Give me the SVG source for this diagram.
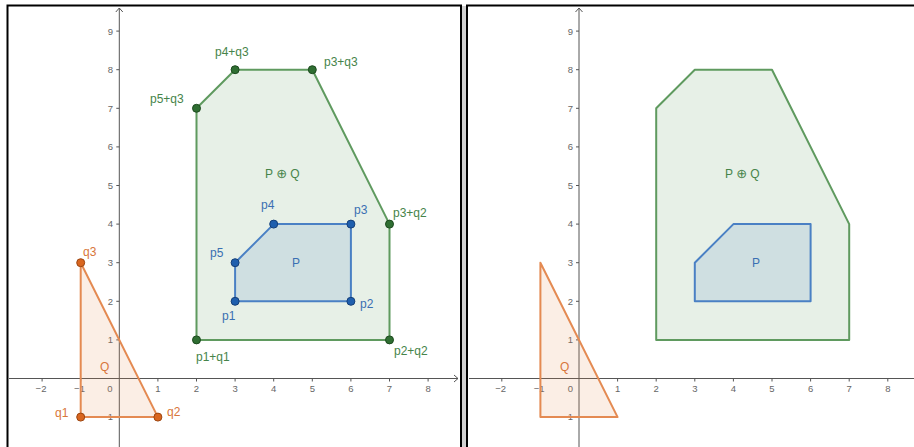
<svg xmlns="http://www.w3.org/2000/svg" width="914" height="447" viewBox="0 0 914 447">
<style>
.frame{fill:none;stroke:#000;stroke-width:2}
.axis{stroke:#555;stroke-width:1;fill:none}
.tick{stroke:#555;stroke-width:1}
.tl{font-family:"Liberation Sans",Arial,sans-serif;font-size:9.5px;fill:#666}
.tlx{text-anchor:middle}
.tly{text-anchor:end}
.sum{fill:#5f9a5f;fill-opacity:0.15;stroke:#5f9a5f;stroke-width:2;stroke-linejoin:round}
.pp{fill:#4a80c4;fill-opacity:0.15;stroke:#4a80c4;stroke-width:2;stroke-linejoin:round}
.qq{fill:#e48a52;fill-opacity:0.15;stroke:#e48a52;stroke-width:2;stroke-linejoin:round}
.gpt{fill:#2f6e32;stroke:#1c4a1e;stroke-width:1}
.bpt{fill:#1f5fae;stroke:#153f78;stroke-width:1}
.opt{fill:#d9661f;stroke:#9c4510;stroke-width:1}
.lb{font-family:"Liberation Sans",Arial,"DejaVu Sans",sans-serif;font-size:12px}
.op{font-family:"DejaVu Sans",sans-serif;font-size:13px}
.g{fill:#46844a}
.b{fill:#3a6fb2}
.o{fill:#d8763a}
</style>
<rect x="0" y="0" width="914" height="447" fill="#fff"/>
<!-- frames -->
<rect x="462" y="6" width="4" height="441" fill="#d0d0d0"/>
<path class="frame" d="M7.5,447 V5.5 H461 V447"/>
<path class="frame" d="M467,447 V5.5 H914"/>

<g id="left-panel">
  <g id="left-axes">
    <line class="axis" x1="9" y1="378.5" x2="458" y2="378.5"/>
    <path class="axis" d="M454,375 L458,378.5 L454,382"/>
    <line class="axis" x1="119.3" y1="8" x2="119.3" y2="447"/>
    <path class="axis" d="M115.8,12 L119.3,8 L122.8,12"/>
    <g class="tick">
      <line x1="42.1" y1="378.5" x2="42.1" y2="381.5"/><line x1="80.7" y1="378.5" x2="80.7" y2="381.5"/>
      <line x1="157.9" y1="378.5" x2="157.9" y2="381.5"/><line x1="196.5" y1="378.5" x2="196.5" y2="381.5"/>
      <line x1="235.1" y1="378.5" x2="235.1" y2="381.5"/><line x1="273.7" y1="378.5" x2="273.7" y2="381.5"/>
      <line x1="312.3" y1="378.5" x2="312.3" y2="381.5"/><line x1="350.9" y1="378.5" x2="350.9" y2="381.5"/>
      <line x1="389.5" y1="378.5" x2="389.5" y2="381.5"/><line x1="428.1" y1="378.5" x2="428.1" y2="381.5"/>
      <line x1="116.3" y1="31.1" x2="119.3" y2="31.1"/><line x1="116.3" y1="69.7" x2="119.3" y2="69.7"/>
      <line x1="116.3" y1="108.3" x2="119.3" y2="108.3"/><line x1="116.3" y1="146.9" x2="119.3" y2="146.9"/>
      <line x1="116.3" y1="185.5" x2="119.3" y2="185.5"/><line x1="116.3" y1="224.1" x2="119.3" y2="224.1"/>
      <line x1="116.3" y1="262.7" x2="119.3" y2="262.7"/><line x1="116.3" y1="301.3" x2="119.3" y2="301.3"/>
      <line x1="116.3" y1="339.9" x2="119.3" y2="339.9"/><line x1="116.3" y1="417.1" x2="119.3" y2="417.1"/>
    </g>
    <g class="tl tlx">
      <text x="41" y="392">−2</text><text x="79.5" y="392">−1</text><text x="110" y="392">0</text>
      <text x="157.9" y="392">1</text><text x="196.5" y="392">2</text><text x="235.1" y="392">3</text>
      <text x="273.7" y="392">4</text><text x="312.3" y="392">5</text><text x="350.9" y="392">6</text>
      <text x="389.5" y="392">7</text><text x="428.1" y="392">8</text>
    </g>
    <g class="tl tly">
      <text x="113" y="34.5">9</text><text x="113" y="73">8</text><text x="113" y="111.6">7</text>
      <text x="113" y="150.2">6</text><text x="113" y="188.8">5</text><text x="113" y="227.4">4</text>
      <text x="113" y="266">3</text><text x="113" y="304.6">2</text><text x="113" y="343.2">1</text>
      <text x="113" y="420.4">−1</text>
    </g>
  </g>
  <g id="L-sum">
    <polygon class="sum" points="196.5,339.9 389.5,339.9 389.5,224.1 312.3,69.7 235.1,69.7 196.5,108.3"/>
    <text class="lb g" x="265" y="178">P <tspan class="op">⊕</tspan> Q</text>
  </g>
  <g id="L-P">
    <polygon class="pp" points="235.1,301.3 350.9,301.3 350.9,224.1 273.7,224.1 235.1,262.7"/>
    <text class="lb b" x="292" y="267">P</text>
  </g>
  <g id="L-Q">
    <polygon class="qq" points="80.7,417.1 157.9,417.1 80.7,262.7"/>
    <text class="lb o" x="100" y="371">Q</text>
  </g>
  <g id="L-sum-points">
    <circle class="gpt" cx="196.5" cy="339.9" r="4"/><text class="lb g" x="196" y="361">p1+q1</text>
    <circle class="gpt" cx="389.5" cy="339.9" r="4"/><text class="lb g" x="394" y="355">p2+q2</text>
    <circle class="gpt" cx="389.5" cy="224.1" r="4"/><text class="lb g" x="393" y="217">p3+q2</text>
    <circle class="gpt" cx="312.3" cy="69.7" r="4"/><text class="lb g" x="324" y="66">p3+q3</text>
    <circle class="gpt" cx="235.1" cy="69.7" r="4"/><text class="lb g" x="215" y="56">p4+q3</text>
    <circle class="gpt" cx="196.5" cy="108.3" r="4"/><text class="lb g" x="150" y="103">p5+q3</text>
  </g>
  <g id="L-P-points">
    <circle class="bpt" cx="235.1" cy="301.3" r="4"/><text class="lb b" x="222" y="320">p1</text>
    <circle class="bpt" cx="350.9" cy="301.3" r="4"/><text class="lb b" x="360" y="308">p2</text>
    <circle class="bpt" cx="350.9" cy="224.1" r="4"/><text class="lb b" x="354" y="214">p3</text>
    <circle class="bpt" cx="273.7" cy="224.1" r="4"/><text class="lb b" x="261" y="209">p4</text>
    <circle class="bpt" cx="235.1" cy="262.7" r="4"/><text class="lb b" x="210" y="257">p5</text>
  </g>
  <g id="L-Q-points">
    <circle class="opt" cx="80.7" cy="417.1" r="4"/><text class="lb o" x="55" y="417">q1</text>
    <circle class="opt" cx="157.9" cy="417.1" r="4"/><text class="lb o" x="167" y="416">q2</text>
    <circle class="opt" cx="80.7" cy="262.7" r="4"/><text class="lb o" x="83" y="256">q3</text>
  </g>
</g>

<g id="right-panel">
  <g id="right-axes">
    <line class="axis" x1="469" y1="378.5" x2="914" y2="378.5"/>
    <line class="axis" x1="579" y1="8" x2="579" y2="447"/>
    <path class="axis" d="M575.5,12 L579,8 L582.5,12"/>
    <g class="tick">
      <line x1="501.8" y1="378.5" x2="501.8" y2="381.5"/><line x1="540.4" y1="378.5" x2="540.4" y2="381.5"/>
      <line x1="617.6" y1="378.5" x2="617.6" y2="381.5"/><line x1="656.2" y1="378.5" x2="656.2" y2="381.5"/>
      <line x1="694.8" y1="378.5" x2="694.8" y2="381.5"/><line x1="733.4" y1="378.5" x2="733.4" y2="381.5"/>
      <line x1="772" y1="378.5" x2="772" y2="381.5"/><line x1="810.6" y1="378.5" x2="810.6" y2="381.5"/>
      <line x1="849.2" y1="378.5" x2="849.2" y2="381.5"/><line x1="887.8" y1="378.5" x2="887.8" y2="381.5"/>
      <line x1="576" y1="31.1" x2="579" y2="31.1"/><line x1="576" y1="69.7" x2="579" y2="69.7"/>
      <line x1="576" y1="108.3" x2="579" y2="108.3"/><line x1="576" y1="146.9" x2="579" y2="146.9"/>
      <line x1="576" y1="185.5" x2="579" y2="185.5"/><line x1="576" y1="224.1" x2="579" y2="224.1"/>
      <line x1="576" y1="262.7" x2="579" y2="262.7"/><line x1="576" y1="301.3" x2="579" y2="301.3"/>
      <line x1="576" y1="339.9" x2="579" y2="339.9"/><line x1="576" y1="417.1" x2="579" y2="417.1"/>
    </g>
    <g class="tl tlx">
      <text x="500.7" y="392">−2</text><text x="539.2" y="392">−1</text><text x="570.5" y="392">0</text>
      <text x="617.6" y="392">1</text><text x="656.2" y="392">2</text><text x="694.8" y="392">3</text>
      <text x="733.4" y="392">4</text><text x="772" y="392">5</text><text x="810.6" y="392">6</text>
      <text x="849.2" y="392">7</text><text x="887.8" y="392">8</text>
    </g>
    <g class="tl tly">
      <text x="573" y="34.5">9</text><text x="573" y="73">8</text><text x="573" y="111.6">7</text>
      <text x="573" y="150.2">6</text><text x="573" y="188.8">5</text><text x="573" y="227.4">4</text>
      <text x="573" y="266">3</text><text x="573" y="304.6">2</text><text x="573" y="343.2">1</text>
      <text x="573" y="420.4">−1</text>
    </g>
  </g>
  <g id="R-sum">
    <polygon class="sum" points="656.2,339.9 849.2,339.9 849.2,224.1 772,69.7 694.8,69.7 656.2,108.3"/>
    <text class="lb g" x="725" y="178">P <tspan class="op">⊕</tspan> Q</text>
  </g>
  <g id="R-P">
    <polygon class="pp" points="694.8,301.3 810.6,301.3 810.6,224.1 733.4,224.1 694.8,262.7"/>
    <text class="lb b" x="752" y="267">P</text>
  </g>
  <g id="R-Q">
    <polygon class="qq" points="540.4,417.1 617.6,417.1 540.4,262.7"/>
    <text class="lb o" x="560" y="371">Q</text>
  </g>
</g>
</svg>
